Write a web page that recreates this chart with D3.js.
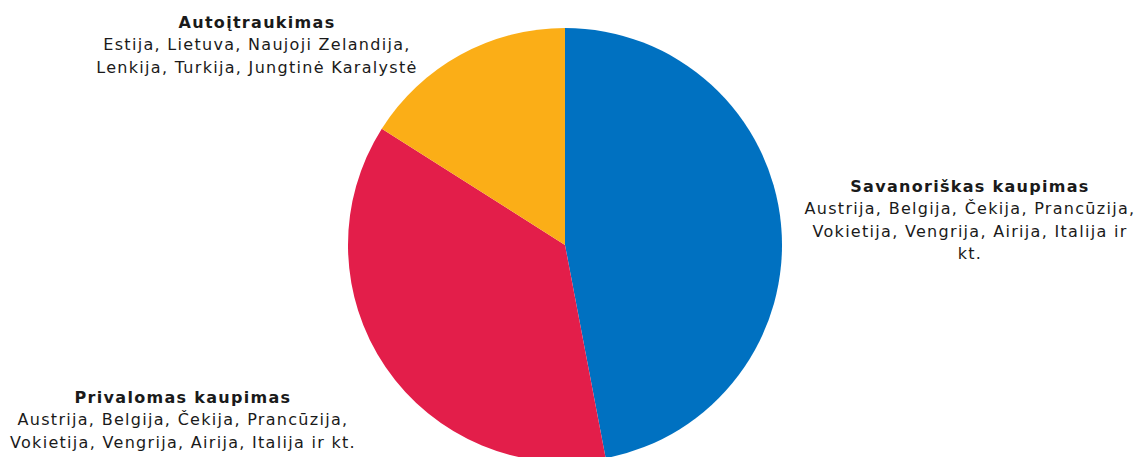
<!DOCTYPE html>
<html>
<head>
<meta charset="utf-8">
<script src="https://cdn.jsdelivr.net/npm/d3@7/dist/d3.min.js"></script>
<style>
  html, body { margin: 0; padding: 0; background: #ffffff; }
  svg { display: block; }
  text { font-family: "DejaVu Sans", Verdana, sans-serif; fill: #1a1a1a; }
</style>
</head>
<body>
<svg id="chart" width="1136" height="457"></svg>
<script>
// Pension accumulation models (share of slices)
const categories = ["Savanoriškas kaupimas", "Privalomas kaupimas", "Autoįtraukimas"];
const values = [47, 37, 16];
const colors = ["#0071c1", "#e31e4a", "#fbae17"];
const countryLines = [
  ["Austrija, Belgija, Čekija, Prancūzija,", "Vokietija, Vengrija, Airija, Italija ir", "kt."],
  ["Austrija, Belgija, Čekija, Prancūzija,", "Vokietija, Vengrija, Airija, Italija ir kt."],
  ["Estija, Lietuva, Naujoji Zelandija,", "Lenkija, Turkija, Jungtinė Karalystė"]
];

const svg = d3.select("#chart");
const cx = 565, cy = 245, radius = 217;

const pie = d3.pie().sort(null).value(d => d.value);
const arc = d3.arc().innerRadius(0).outerRadius(radius);
const data = categories.map((c, i) => ({ name: c, value: values[i], color: colors[i], lines: countryLines[i] }));

const g = svg.append("g").attr("transform", `translate(${cx},${cy})`);
g.selectAll("path")
  .data(pie(data))
  .join("path")
  .attr("d", arc)
  .attr("fill", d => d.data.color);

// label anchor points (centre x, first baseline)
const labelPos = [
  { x: 970, y: 192 },
  { x: 183, y: 403 },
  { x: 257, y: 28 }
];
const lineH = 22.3;

data.forEach((d, i) => {
  const t = svg.append("text")
    .attr("text-anchor", "middle")
    .attr("font-size", 16)
    .attr("letter-spacing", 1.3);
  t.append("tspan")
    .attr("x", labelPos[i].x).attr("y", labelPos[i].y)
    .attr("font-weight", "bold")
    .text(d.name);
  d.lines.forEach((ln, k) => {
    t.append("tspan")
      .attr("x", labelPos[i].x)
      .attr("y", labelPos[i].y + lineH * (k + 1))
      .text(ln);
  });
});
</script>
</body>
</html>
